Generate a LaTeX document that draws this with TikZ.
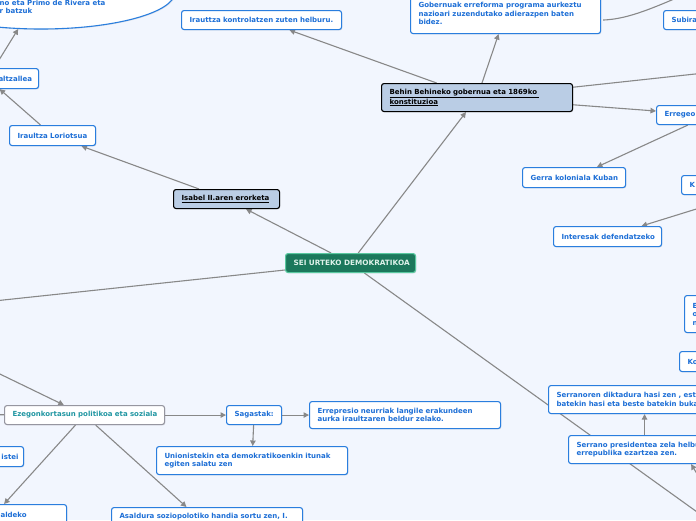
\documentclass[tikz,border=0pt]{standalone}
\usepackage{fontspec}
\setmainfont{DejaVu Sans}
\usetikzlibrary{arrows.meta,shadows,calc,shapes.geometric}
\definecolor{bgc}{RGB}{242,246,254}
\definecolor{bdblue}{RGB}{42,126,222}
\definecolor{txblue}{RGB}{28,110,214}
\definecolor{lightfill}{RGB}{186,205,229}
\definecolor{cfill}{RGB}{28,120,92}
\definecolor{cdraw}{RGB}{90,200,160}
\definecolor{ctext}{RGB}{222,242,234}
\definecolor{gbd}{RGB}{150,150,160}
\definecolor{teal}{RGB}{32,150,162}
\definecolor{edgec}{RGB}{136,136,136}
\newcommand\fxt{\fontsize{7}{8.6}\selectfont\bfseries}
\newcommand\fxc{\fontsize{7.3}{8.6}\selectfont\bfseries}
\newcommand\lnx[1]{\mbox{#1}}
\pgfdeclarelayer{bg}
\pgfsetlayers{bg,main}
\begin{document}
\begin{tikzpicture}[x=1pt,y=-1pt,
  boxbase/.style={rounded corners=2.5pt, line width=1.1pt, align=left,
    inner xsep=8pt, inner ysep=0pt, anchor=north west, font=\fxt,
    drop shadow={opacity=0.18,shadow xshift=0.8pt,shadow yshift=-0.9pt}},
  bluebox/.style={boxbase, draw=bdblue, fill=white, text=txblue},
  lightbox/.style={boxbase, draw=black, fill=lightfill, text=black},
  greybox/.style={boxbase, draw=gbd, fill=white, text=teal},
  rootbox/.style={boxbase, draw=cdraw, fill=cfill, text=ctext, align=center, font=\fxc},
  conn/.style={draw=edgec, line width=1.1pt, -{Triangle[length=5.5pt,width=5.5pt]}},
  plain/.style={draw=edgec, line width=1.1pt}]
\useasboundingbox (0,0) rectangle (696,520);

% nodes
\node[rootbox, text width=114pt, minimum height=19pt] (central) at (285,253) {\lnx{SEI URTEKO DEMOKRATIKOA}};
\node[lightbox, text width=90pt, minimum height=19pt] (isabel) at (173,189) {\lnx{\underline{Isabel II.aren erorketa}}};
\node[lightbox, text width=175pt, minimum height=28pt] (behin) at (381,83) {\lnx{\underline{Behin Behineko gobernua eta 1869ko\ }}\\\lnx{\underline{konstituzioa}}};
\node[bluebox, text width=144pt, minimum height=19pt] (irk) at (181,10) {\lnx{Irauttza kontrolatzen zuten helburu.}};
\node[bluebox, text width=174pt, minimum height=40pt] (gob) at (410,-7) {\lnx{Gobernuak erreforma programa aurkeztu}\\\lnx{nazioari zuzendutako adierazpen baten}\\\lnx{bidez.}};
\node[bluebox, text width=84pt, minimum height=19pt] (sub) at (663,10) {\lnx{Subira}};
\node[bluebox, text width=90pt, minimum height=19pt] (erre) at (656,105) {\lnx{Erregeo}};
\node[bluebox, text width=87pt, minimum height=20pt] (gerra) at (522,167) {\lnx{Gerra koloniala Kuban}};
\node[bluebox, text width=168pt, minimum height=19pt] (kk) at (681,175) {\lnx{K}};
\node[bluebox, text width=92pt, minimum height=20pt] (inter) at (553,226) {\lnx{Interesak defendatzeko}};
\node[bluebox, text width=84pt, minimum height=37pt] (eon) at (684,295) {\lnx{E}\\\lnx{o}\\\lnx{n}};
\node[bluebox, text width=84pt, minimum height=20pt] (ko) at (679,351) {\lnx{Ko}};
\node[bluebox, text width=176pt, minimum height=28pt] (srnd) at (548,385) {\lnx{Serranoren diktadura hasi zen , esta}\\\lnx{batekin hasi eta beste batekin buka}};
\node[bluebox, text width=136pt, minimum height=28pt] (srnp) at (568,435) {\lnx{Serrano presidentea zela helbu}\\\lnx{errepublika ezartzea zen.}};
\node[greybox, text width=144pt, minimum height=19pt] (ezeg) at (4,405) {\lnx{Ezegonkortasun politikoa eta soziala}};
\node[bluebox, text width=39pt, minimum height=19pt] (sag) at (226,405) {\lnx{Sagastak:}};
\node[bluebox, text width=175pt, minimum height=27pt] (errep) at (309,401) {\lnx{Errepresio neurriak langile erakundeen}\\\lnx{aurka iraultzaren beldur zelako.}};
\node[bluebox, text width=175pt, minimum height=28pt] (union) at (156,446) {\lnx{Unionistekin eta demokratikoenkin itunak}\\\lnx{egiten salatu zen}};
\node[bluebox, text width=73pt, minimum height=20pt, inner xsep=5pt, align=right] (istei) at (-60,446) {\lnx{istei}};
\node[bluebox, text width=89pt, minimum height=20pt, inner xsep=6.5pt, align=right] (alt) at (-64,68) {\lnx{altzallea}};
\node[bluebox, text width=70pt, minimum height=20pt] (lor) at (9,125) {\lnx{Iraultza Loriotsua}};
\node[bluebox, text width=128pt, minimum height=20pt] (aldeko) at (-78,504) {\lnx{\hspace*{70pt}aldeko}};
\node[bluebox, text width=175pt, minimum height=36pt] (asal) at (111,507) {\lnx{Asaldura soziopolotiko handia sortu zen, I.}\\\strut\\\strut};
\node[ellipse, draw=bdblue, fill=white, line width=1.1pt, minimum width=268pt, minimum height=74pt,
  drop shadow={opacity=0.18,shadow xshift=0.8pt,shadow yshift=-0.9pt}] (ell) at (41,-8) {};
\node[anchor=north west, inner sep=0pt, align=left, font=\fxt, text=txblue] (ellt) at (-0.5,-0.5) {\lnx{no eta Primo de Rivera eta}\\\lnx{r batzuk}};

% off-picture end points
\coordinate (offL) at (-100,311);
\coordinate (offBR) at (750,550);
\coordinate (offR1) at (760,67);
\coordinate (offG) at (690,-8);
\coordinate (offSP) at (716,505);
\coordinate (offE) at (-100,325.6);
\coordinate (offEL) at (-60,414.5);

\begin{pgfonlayer}{bg}
\fill[bgc] (0,0) rectangle (696,520);
\draw[conn] (central) -- (isabel);
\draw[conn] (central) -- (behin);
\draw[conn] (central) -- (offL);
\draw[conn] (central) -- (offBR);
\draw[conn] (isabel) -- (lor);
\draw[conn] (lor) -- (alt);
\draw[conn] (alt) -- (ell);
\draw[conn] (behin) -- (irk);
\draw[conn] (behin) -- (gob);
\draw[conn] (behin) -- (offR1);
\draw[conn] (behin) -- (erre);
\draw[conn] (erre) -- (gerra);
\draw[conn] (kk) -- (inter);
\draw[plain] ($(gob.east)+(2,6.5)$) .. controls (625,19) and (645,12) .. (offG);
\draw[conn] (srnp) -- (srnd);
\draw[conn] (offSP) -- ($(srnp.south east)+(-30,0)$);
\draw[conn] (offE) -- (ezeg);
\draw[conn] (ezeg) -- (sag);
\draw[conn] (sag) -- (errep);
\draw[conn] (sag) -- (union);
\draw[conn] (ezeg) -- (aldeko);
\draw[conn] (ezeg) -- (asal);
\draw[conn] (ezeg) -- (offEL);
\end{pgfonlayer}
\end{tikzpicture}
\end{document}
